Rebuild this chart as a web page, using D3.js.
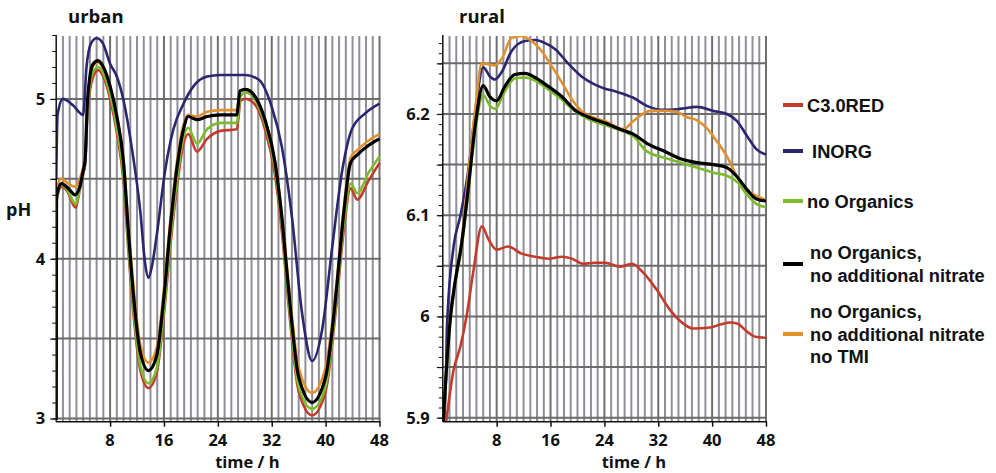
<!DOCTYPE html>
<html><head><meta charset="utf-8">
<script src="https://cdn.jsdelivr.net/npm/d3@7"></script>
<style>
html,body{margin:0;padding:0;background:#fff;}
svg{display:block;}
text{font-family:"Open Sans",sans-serif;font-weight:700;fill:#111;}
.leg{font-family:"Liberation Sans",Arial,sans-serif;font-weight:700;font-size:18.3px;}
</style></head>
<body>
<script>
// ---------- DATA ----------
const seriesNames = ["C3.0RED", "INORG", "no Organics", "no Organics, no additional nitrate", "no Organics, no additional nitrate no TMI"];
const seriesColors = ["#c43a2b", "#2c2670", "#7cbc2c", "#000000", "#e0902e"];
const xTicks = [8, 16, 24, 32, 40, 48];
const urbanYTicks = [3, 4, 5];
const ruralYTicks = [5.9, 6, 6.1, 6.2];

// urban: [time h, pH]
const urbanRED = [[0,2.99],[0.05,4.36],[0.8,4.45],[1.8,4.41],[2.5,4.34],[2.9,4.32],[3.5,4.43],[4.0,4.53],[4.3,4.59],[4.6,4.88],[5.0,5.05],[5.5,5.14],[6.2,5.18],[7.0,5.14],[8.0,5.00],[9.0,4.79],[10.0,4.48],[10.7,4.06],[11.5,3.64],[12.5,3.30],[13.7,3.19],[14.9,3.28],[15.9,3.61],[16.9,4.06],[17.9,4.44],[18.9,4.72],[19.6,4.78],[20.9,4.67],[22.4,4.75],[24.4,4.80],[26.8,4.81],[27.4,4.99],[28.1,5.00],[29.6,4.96],[31.0,4.81],[32.5,4.52],[33.5,4.17],[34.5,3.71],[36.0,3.17],[38.0,3.02],[40.0,3.17],[41.5,3.67],[42.7,4.18],[43.7,4.44],[44.7,4.37],[46.4,4.49],[48,4.60]];
const urbanINORG = [[0,4.50],[0.2,4.90],[1.0,5.00],[2.5,4.96],[4.0,4.90],[4.5,5.20],[5.2,5.35],[6.0,5.38],[6.9,5.35],[8.0,5.22],[9.0,5.14],[10.0,4.99],[11.2,4.70],[12.5,4.29],[13.2,3.97],[13.7,3.88],[14.2,3.95],[14.9,4.14],[16.2,4.56],[17.4,4.81],[18.9,4.97],[20.4,5.08],[22.4,5.14],[24.4,5.15],[28.1,5.15],[30.1,5.12],[32.0,4.95],[33.5,4.70],[35.0,4.26],[36.5,3.66],[38.0,3.36],[39.5,3.56],[41.0,4.08],[42.5,4.56],[43.9,4.81],[45.9,4.91],[48,4.97]];
const urbanNoOrg = [[0,2.99],[0.05,4.38],[0.8,4.46],[1.8,4.42],[2.5,4.36],[2.9,4.34],[3.5,4.44],[4.0,4.54],[4.3,4.60],[4.6,4.90],[5.0,5.08],[5.5,5.17],[6.2,5.20],[7.0,5.16],[8.0,5.03],[9.0,4.82],[10.0,4.52],[10.7,4.10],[11.5,3.68],[12.5,3.33],[13.7,3.22],[14.9,3.31],[15.9,3.64],[16.9,4.10],[17.9,4.48],[18.9,4.76],[19.6,4.82],[20.9,4.72],[22.4,4.81],[24.4,4.85],[26.8,4.85],[27.4,5.02],[28.1,5.04],[29.6,4.99],[31.0,4.84],[32.5,4.56],[33.5,4.21],[34.5,3.75],[36.0,3.20],[38.0,3.06],[40.0,3.20],[41.5,3.70],[42.7,4.22],[43.7,4.47],[44.7,4.41],[46.4,4.54],[48,4.64]];
const urbanNoNitrate = [[0,2.99],[0.05,4.39],[0.8,4.47],[1.8,4.44],[2.8,4.40],[3.5,4.45],[4.0,4.55],[4.3,4.62],[4.6,4.95],[5.0,5.14],[5.5,5.22],[6.2,5.24],[7.0,5.20],[8.0,5.08],[9.0,4.89],[10.0,4.60],[10.7,4.18],[11.5,3.76],[12.5,3.41],[13.7,3.30],[14.9,3.39],[15.9,3.72],[16.9,4.18],[17.9,4.56],[18.9,4.81],[19.6,4.89],[20.9,4.87],[22.4,4.89],[24.4,4.90],[26.8,4.90],[27.3,5.05],[28.1,5.06],[29.6,5.01],[31.0,4.87],[32.5,4.60],[33.5,4.26],[34.5,3.81],[36.0,3.26],[38.0,3.10],[40.0,3.26],[41.5,3.76],[42.7,4.29],[43.7,4.60],[44.7,4.65],[46.4,4.71],[48,4.75]];
const urbanNoTMI = [[0,2.99],[0.05,4.44],[0.8,4.50],[1.8,4.47],[2.8,4.45],[3.5,4.50],[4.0,4.57],[4.3,4.64],[4.6,4.95],[5.0,5.13],[5.5,5.21],[6.2,5.23],[7.0,5.19],[8.0,5.08],[9.0,4.90],[10.0,4.62],[10.7,4.22],[11.5,3.82],[12.5,3.46],[13.7,3.35],[14.9,3.44],[15.9,3.77],[16.9,4.22],[17.9,4.60],[18.9,4.84],[19.6,4.90],[20.9,4.89],[22.4,4.92],[24.4,4.93],[26.8,4.93],[27.3,5.05],[28.1,5.06],[29.6,5.01],[31.0,4.87],[32.5,4.61],[33.5,4.28],[34.5,3.85],[36.0,3.32],[38.0,3.16],[40.0,3.32],[41.5,3.80],[42.7,4.32],[43.7,4.63],[44.7,4.68],[46.4,4.74],[48,4.78]];

// rural: [time h, pH]
const ruralRED = [[0.5,5.896],[1.6,5.947],[2.6,5.970],[3.6,6.003],[4.5,6.043],[5.8,6.089],[6.8,6.076],[8.0,6.066],[9.7,6.069],[11.7,6.062],[13.7,6.059],[15.7,6.057],[17.7,6.059],[19.2,6.057],[20.9,6.052],[22.6,6.053],[24.1,6.053],[26.3,6.049],[28.1,6.052],[29.8,6.043],[31.8,6.026],[33.8,6.006],[35.7,5.993],[37.2,5.988],[39.7,5.989],[41.2,5.992],[42.7,5.994],[43.7,5.993],[45.2,5.985],[46.4,5.980],[48,5.979]];
const ruralINORG = [[0.2,5.896],[0.5,5.950],[0.6,5.987],[1.6,6.069],[2.6,6.099],[3.8,6.145],[4.8,6.201],[6.0,6.246],[7.0,6.237],[7.7,6.234],[8.8,6.242],[10.2,6.262],[12.2,6.272],[13.7,6.273],[15.2,6.270],[16.7,6.264],[18.6,6.250],[20.6,6.237],[22.6,6.229],[24.1,6.225],[25.8,6.222],[28.3,6.216],[30.3,6.208],[32.8,6.204],[35.2,6.205],[37.7,6.207],[40.2,6.203],[42.2,6.200],[43.7,6.193],[45.2,6.178],[46.6,6.165],[48,6.160]];
const ruralNoOrg = [[0.05,5.896],[0.6,5.950],[1.1,5.993],[1.8,6.030],[2.8,6.068],[3.8,6.124],[4.8,6.182],[6.0,6.219],[7.0,6.208],[7.8,6.205],[9.2,6.222],[10.7,6.235],[12.2,6.236],[13.7,6.233],[15.7,6.224],[17.7,6.214],[19.6,6.203],[21.6,6.195],[24.1,6.189],[26.3,6.184],[28.3,6.178],[30.3,6.163],[33.3,6.156],[35.2,6.152],[37.7,6.147],[40.2,6.142],[42.2,6.139],[43.7,6.133],[45.2,6.120],[46.6,6.111],[48,6.108]];
const ruralNoNitrate = [[0.05,5.896],[0.6,5.954],[1.1,5.997],[1.8,6.033],[2.8,6.072],[3.8,6.128],[4.8,6.188],[6.0,6.228],[7.0,6.217],[8.0,6.213],[9.2,6.227],[10.7,6.239],[12.2,6.240],[13.7,6.236],[15.7,6.227],[17.7,6.217],[19.6,6.204],[21.6,6.197],[24.1,6.191],[26.3,6.185],[28.3,6.180],[30.3,6.171],[33.3,6.162],[35.2,6.156],[37.7,6.152],[40.2,6.150],[42.2,6.147],[43.7,6.138],[45.2,6.125],[46.6,6.116],[48,6.114]];
const ruralNoTMI = [[0.1,5.896],[0.6,5.957],[1.1,5.998],[1.8,6.033],[2.8,6.075],[3.8,6.142],[4.8,6.204],[5.8,6.250],[6.8,6.249],[7.7,6.248],[8.8,6.255],[10.2,6.275],[11.7,6.277],[13.2,6.272],[14.7,6.262],[16.2,6.247],[17.7,6.231],[19.2,6.214],[20.6,6.203],[22.6,6.196],[24.1,6.193],[26.8,6.185],[28.3,6.193],[30.8,6.203],[33.3,6.203],[34.8,6.202],[36.2,6.197],[37.7,6.194],[39.2,6.186],[40.7,6.173],[42.2,6.158],[43.7,6.138],[45.2,6.125],[46.6,6.119],[48,6.115]];

const urbanSeries = [urbanRED, urbanINORG, urbanNoOrg, urbanNoNitrate, urbanNoTMI];
const ruralSeries = [ruralRED, ruralINORG, ruralNoOrg, ruralNoNitrate, ruralNoTMI];

// ---------- DRAW ----------
const W = 996, H = 473;
const svg = d3.select("body").append("svg").attr("width", W).attr("height", H);
const drawOrder = [1, 0, 4, 2, 3];

function panel(opt) {
  const x = d3.scaleLinear().domain([0, 48]).range([opt.x0, opt.x1]);
  const y = d3.scaleLinear().domain(opt.yDomain).range([421.7, 35]);
  const g = svg.append("g");
  const top = 36;
  const hours = d3.range(1, 49);
  g.selectAll(".vg").data(hours).enter().append("line")
    .attr("x1", d => x(d)).attr("x2", d => x(d))
    .attr("y1", top).attr("y2", y.range()[0])
    .attr("stroke", d => d % 8 === 0 ? "#6e6e70" : "#8f8f98")
    .attr("stroke-width", 2);
  g.selectAll(".hg").data(opt.grid).enter().append("line")
    .attr("x1", x(0)).attr("x2", x(48) + 1)
    .attr("y1", d => y(d)).attr("y2", d => y(d))
    .attr("stroke", "#6b6b6b").attr("stroke-width", 2);
  const cid = "clip" + opt.id;
  svg.append("clipPath").attr("id", cid).append("rect")
    .attr("x", x(0)).attr("y", top).attr("width", x(48) - x(0) + 2).attr("height", y.range()[0] - top);
  const line = d3.line().x(d => x(d[0])).y(d => y(d[1])).curve(d3.curveMonotoneX);
  const lg = svg.append("g").attr("clip-path", `url(#${cid})`);
  drawOrder.forEach(i => {
    lg.append("path").attr("d", line(opt.series[i]))
      .attr("fill", "none").attr("stroke", seriesColors[i])
      .attr("stroke-width", i === 3 ? 3.2 : 2.6)
      .attr("stroke-linejoin", "round");
  });
  const yAxis = d3.axisLeft(y).tickValues(opt.minor).tickSize(4).tickFormat("");
  const ya = svg.append("g").attr("transform", `translate(${x(0)},0)`).call(yAxis);
  ya.select(".domain").remove();
  ya.selectAll("line").attr("stroke", "#111");
  const yMaj = svg.append("g").attr("transform", `translate(${x(0)},0)`)
    .call(d3.axisLeft(y).tickValues(opt.grid).tickSize(6).tickFormat(""));
  yMaj.select(".domain").remove();
  yMaj.selectAll("line").attr("stroke", "#111").attr("stroke-width", 1.2);
  svg.append("line").attr("x1", x(0)).attr("x2", x(0)).attr("y1", 35).attr("y2", y.range()[0])
    .attr("stroke", "#111").attr("stroke-width", 1.5);
  svg.append("g").selectAll("text").data(opt.labels).enter().append("text")
    .attr("x", x(0) - opt.labelGap).attr("y", d => y(d)).attr("dy", "0.36em")
    .attr("text-anchor", "end").attr("font-size", 16.5).text(d => d3.format("~g")(d));
  const xa = svg.append("g").attr("transform", `translate(0,${y.range()[0]})`)
    .call(d3.axisBottom(x).tickValues(xTicks).tickSize(5).tickFormat(""));
  xa.select(".domain").remove();
  xa.selectAll("line").attr("stroke", "#111").attr("stroke-width", 1.5);
  svg.append("line").attr("x1", x(0)).attr("x2", x(48) + 1).attr("y1", y.range()[0]).attr("y2", y.range()[0])
    .attr("stroke", "#111").attr("stroke-width", 1.5);
  svg.append("g").selectAll("text").data(xTicks).enter().append("text")
    .attr("x", d => x(d)).attr("y", 446).attr("text-anchor", "middle").attr("font-size", 16.5).text(d => d);
  svg.append("text").attr("x", x(23.6)).attr("y", 468).attr("font-size", 16.5).text("time / h");
  svg.append("text").attr("x", opt.titleX).attr("y", 23).attr("font-size", 18.5).text(opt.title);
}

panel({id: "u", x0: 56.2, x1: 379.5, yDomain: [2.98, 5.4], series: urbanSeries,
  grid: [3, 3.5, 4, 4.5, 5], minor: d3.range(30, 55).map(v => v / 10), labels: urbanYTicks,
  title: "urban", titleX: 68, labelGap: 11});
panel({id: "r", x0: 442.8, x1: 766, yDomain: [5.896, 6.278], series: ruralSeries,
  grid: [5.9, 5.95, 6, 6.05, 6.1, 6.15, 6.2, 6.25], minor: d3.range(590, 628).map(v => v / 100), labels: ruralYTicks,
  title: "rural", titleX: 459, labelGap: 13});

svg.append("text").attr("x", 6).attr("y", 216).attr("font-size", 18).text("pH");

// legend
const legY = [105, 151, 201, 264, 334];
const legLines = [["C3.0RED"], [" INORG"], ["no Organics"], ["no Organics,", "no additional nitrate"], ["no Organics,", "no additional nitrate", "no TMI"]];
const lgd = svg.append("g");
seriesNames.forEach((n, i) => {
  lgd.append("line").attr("x1", 783).attr("x2", 803).attr("y1", legY[i]).attr("y2", legY[i])
    .attr("stroke", seriesColors[i]).attr("stroke-width", 4);
  const ls = legLines[i];
  const t = lgd.append("text").attr("class", "leg").attr("xml:space", "preserve");
  ls.forEach((s, k) => {
    t.append("tspan").attr("x", i < 3 ? 807 : 810)
      .attr("y", legY[i] + (k - (ls.length - 1) / 2) * 22.3).attr("dy", "0.36em").text(s);
  });
});
</script>
</body></html>
